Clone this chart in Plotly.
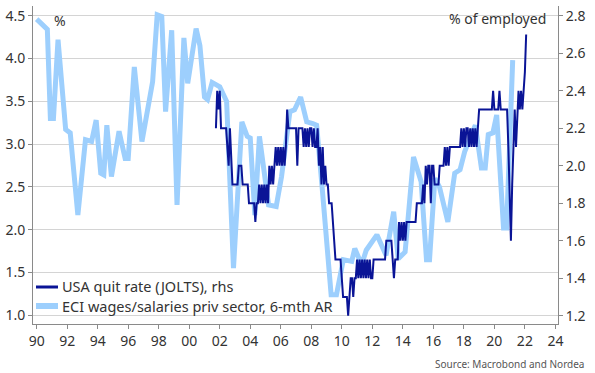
import plotly.graph_objects as go

# ECI wages/salaries private sector, 6-month annualised rate (%), left axis
eci_year = [1990.0, 1990.7, 1990.9, 1991.1, 1991.4, 1991.7, 1991.9, 1992.2, 1992.7, 1993.2,
            1993.6, 1993.9, 1994.2, 1994.4, 1994.6, 1994.9, 1995.4, 1995.8, 1996.0, 1996.4,
            1996.9, 1997.6, 1997.9, 1998.2, 1998.45, 1998.85, 1999.2, 1999.65, 1999.9, 2000.45,
            2000.7, 2001.0, 2001.2, 2001.5, 2002.0, 2002.45, 2002.9, 2003.45, 2003.8, 2004.0,
            2004.3, 2004.6, 2005.2, 2005.7, 2006.05, 2006.6, 2006.9, 2007.3, 2007.7, 2008.1,
            2008.35, 2008.7, 2009.3, 2009.65, 2010.1, 2010.65, 2010.85, 2011.3, 2011.6, 2012.3,
            2012.9, 2013.4, 2013.7, 2014.15, 2014.7, 2015.2, 2015.55, 2015.75, 2016.1, 2016.4,
            2016.95, 2017.4, 2017.75, 2018.05, 2018.75, 2019.15, 2019.4, 2019.6, 2019.9, 2020.15,
            2020.6, 2020.8, 2021.2]
eci_value = [4.46, 4.34, 3.30, 3.30, 4.22, 3.50, 3.17, 3.13, 2.17, 3.05,
             3.03, 3.28, 2.66, 2.64, 3.22, 2.62, 3.15, 2.83, 2.83, 3.90,
             3.03, 3.73, 4.51, 4.49, 3.38, 4.33, 2.29, 4.24, 3.71, 4.35,
             4.15, 3.55, 3.52, 3.72, 3.67, 3.50, 1.55, 3.26, 3.09, 3.07,
             2.17, 3.09, 2.29, 2.27, 2.62, 3.38, 3.40, 3.55, 3.26, 3.24,
             3.22, 2.52, 1.24, 1.24, 1.65, 1.63, 1.78, 1.59, 1.76, 1.94,
             1.70, 2.21, 1.66, 1.74, 2.85, 2.56, 1.65, 1.65, 2.60, 2.50,
             2.09, 2.66, 2.70, 2.91, 3.22, 2.72, 2.72, 3.11, 3.13, 3.34,
             2.02, 2.02, 3.98]

# USA quit rate (JOLTS), % of employed, right axis — monthly, as plotted
quit_start_year = 2001.75
quit_rate = [
    2.2, 2.4, 2.3,
    2.4, 2.2, 2.2, 2.2, 2.2, 2.2, 2.1, 2.0, 2.2, 2.0, 1.9, 1.9,   # 2002
    1.9, 1.9, 1.9, 2.0, 2.0, 2.0, 1.9, 1.9, 1.9, 1.9, 1.9, 1.8,   # 2003
    1.8, 1.8, 1.8, 1.8, 1.7, 1.8, 1.8, 1.9, 1.8, 1.9, 1.8, 1.9,   # 2004
    1.8, 1.9, 1.8, 2.0, 1.9, 2.0, 1.9, 2.0, 2.1, 2.0, 2.1, 2.0,   # 2005
    2.1, 2.0, 2.1, 2.0, 2.1, 2.3, 2.2, 2.2, 2.2, 2.2, 2.2, 2.2,   # 2006
    2.2, 2.0, 2.2, 2.2, 2.2, 2.2, 2.1, 2.2, 2.1, 2.2, 2.1, 2.2,   # 2007
    2.2, 2.1, 2.2, 2.1, 2.1, 2.2, 2.0, 2.1, 1.9, 2.1, 1.9, 2.0,   # 2008
    1.9, 1.9, 1.8, 1.8, 1.8, 1.7, 1.6, 1.5, 1.5, 1.5, 1.5, 1.5,   # 2009
    1.4, 1.3, 1.3, 1.3, 1.3, 1.2, 1.3, 1.4, 1.4, 1.3, 1.4, 1.4,   # 2010
    1.5, 1.4, 1.5, 1.4, 1.5, 1.4, 1.5, 1.4, 1.5, 1.4, 1.5, 1.4,   # 2011
    1.4, 1.5, 1.5, 1.5, 1.5, 1.5, 1.5, 1.5, 1.5, 1.5, 1.5, 1.6,   # 2012
    1.6, 1.6, 1.6, 1.6, 1.5, 1.4, 1.5, 1.5, 1.5, 1.7, 1.6, 1.7,   # 2013
    1.6, 1.7, 1.6, 1.7, 1.7, 1.7, 1.7, 1.7, 1.7, 1.7, 1.7, 1.8,   # 2014
    1.8, 1.8, 1.8, 1.8, 1.9, 1.8, 2.0, 1.9, 2.0, 2.0, 1.8, 2.0,   # 2015
    2.0, 1.9, 1.9, 1.9, 1.9, 2.0, 2.0, 2.0, 2.0, 2.1, 2.0, 2.1,   # 2016
    2.0, 2.1, 2.1, 2.1, 2.1, 2.1, 2.1, 2.1, 2.1, 2.1, 2.2, 2.1,   # 2017
    2.2, 2.1, 2.2, 2.2, 2.1, 2.2, 2.1, 2.2, 2.1, 2.2, 2.1, 2.2,   # 2018
    2.3, 2.3, 2.3, 2.3, 2.3, 2.3, 2.3, 2.3, 2.3, 2.3, 2.3, 2.4,   # 2019
    2.3, 2.3, 2.3, 2.3, 2.4, 2.3, 2.3, 2.3, 2.3, 2.3, 2.3, 2.1,   # 2020
    1.8, 1.6, 1.9, 2.1, 2.3, 2.1, 2.3, 2.4, 2.3, 2.4, 2.3, 2.4,   # 2021
    2.5, 2.7,
]
quit_year = [quit_start_year + i / 12 for i in range(len(quit_rate))]

x_ticks = list(range(1990, 2025, 2))
x_tick_labels = [f"{t % 100:02d}" for t in x_ticks]
left_ticks = [1.0, 1.5, 2.0, 2.5, 3.0, 3.5, 4.0, 4.5]
right_ticks = [1.2, 1.4, 1.6, 1.8, 2.0, 2.2, 2.4, 2.6, 2.8]

quit_name = "USA quit rate (JOLTS), rhs"
eci_name = "ECI wages/salaries priv sector, 6-mth AR"

LIGHT = "#9dcffd"
DARK = "#0a1496"
FONT = "Noto Sans"
TXT = "#333333"
AX = "#8a8a8a"

W, H = 595, 373
L, R, T, B = 33, 37, 6, 49
pw, ph = W - L - R, H - T - B


def px(x):
    return (x - L) / pw


def py(y):
    return (H - B - y) / ph


fig = go.Figure()
fig.add_trace(go.Scatter(
    x=eci_year, y=eci_value, name=eci_name, yaxis="y",
    mode="lines", line=dict(color=LIGHT, width=5), showlegend=False))
fig.add_trace(go.Scatter(
    x=quit_year, y=quit_rate, name=quit_name, yaxis="y2",
    mode="lines", line=dict(color=DARK, width=2), showlegend=False))

axis_common = dict(zeroline=False, showline=True, linecolor=AX, ticks="outside",
                   ticklen=4, tickcolor=AX, automargin=False,
                   tickfont=dict(size=14, color=TXT))

fig.update_layout(
    width=W, height=H,
    margin=dict(l=L, r=R, t=T, b=B, autoexpand=False),
    paper_bgcolor="white", plot_bgcolor="white",
    font=dict(family=FONT, size=14, color=TXT),
    showlegend=False,
    xaxis=dict(range=[1989.76, 2024.17], tickvals=x_ticks, ticktext=x_tick_labels,
               showgrid=False, **axis_common),
    yaxis=dict(range=[0.898, 4.613], tickvals=left_ticks,
               ticktext=[f"{v:.1f}" for v in left_ticks],
               showgrid=True, gridcolor="#d4d4d4", gridwidth=1, **axis_common),
    yaxis2=dict(range=[1.156, 2.852], tickvals=right_ticks,
                ticktext=[f"{v:.1f}" for v in right_ticks],
                overlaying="y", side="right", showgrid=False, **axis_common),
    shapes=[
        dict(type="line", xref="paper", yref="paper", x0=px(36), x1=px(58),
             y0=py(287), y1=py(287), line=dict(color=DARK, width=3)),
        dict(type="line", xref="paper", yref="paper", x0=px(36), x1=px(58),
             y0=py(306), y1=py(306), line=dict(color=LIGHT, width=6)),
    ],
    annotations=[
        dict(text=quit_name, x=px(60), y=py(286), xanchor="left",
             font=dict(size=14.5, color=TXT)),
        dict(text=eci_name, x=px(60), y=py(306), xanchor="left",
             font=dict(size=14.5, color=TXT)),
        dict(text="%", x=px(60), y=py(21), xanchor="center",
             font=dict(size=14, color=TXT)),
        dict(text="% of employed", x=px(548), y=py(19), xanchor="right",
             font=dict(size=14, color=TXT)),
        dict(text="Source: Macrobond and Nordea", x=px(586), y=py(364), xanchor="right",
             font=dict(size=10, color="#555555")),
    ],
)
for a in fig.layout.annotations:
    a.xref = "paper"
    a.yref = "paper"
    a.yanchor = "middle"
    a.showarrow = False

fig.write_html("out.html", config={"displayModeBar": False},
               post_script="document.body.style.margin='0';document.body.style.overflow='hidden';")
